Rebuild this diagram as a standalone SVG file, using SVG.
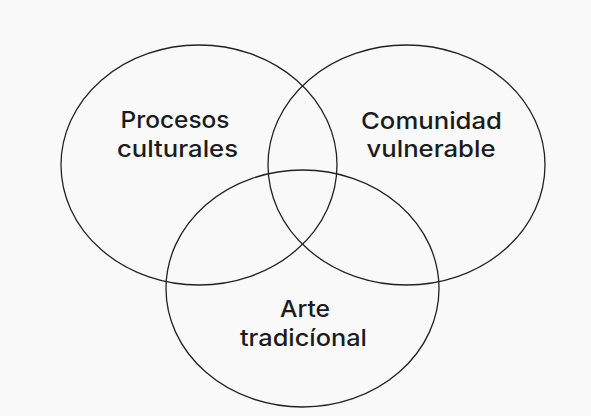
<svg xmlns="http://www.w3.org/2000/svg" width="591" height="416" viewBox="0 0 591 416">
<style>
.c{fill:none;stroke:#222;stroke-width:1.3}
.t{font-family:Inter,"Noto Sans","Liberation Sans",sans-serif;font-size:23.5px;font-weight:500;fill:#1c1c1c;text-anchor:middle}
</style>
<rect width="591" height="416" fill="#f9f9f9"/>
<g id="procesos">
<ellipse class="c" cx="199" cy="165" rx="138" ry="120"/>
<text class="t" x="175" y="128" textLength="109" lengthAdjust="spacingAndGlyphs">Procesos</text>
<text class="t" x="177.5" y="157" textLength="121" lengthAdjust="spacingAndGlyphs">culturales</text>
</g>
<g id="comunidad">
<ellipse class="c" cx="406.5" cy="165" rx="138.5" ry="120"/>
<text class="t" x="431.5" y="129" textLength="141" lengthAdjust="spacingAndGlyphs">Comunidad</text>
<text class="t" x="431" y="156.5" textLength="129" lengthAdjust="spacingAndGlyphs">vulnerable</text>
</g>
<g id="arte">
<ellipse class="c" cx="302.5" cy="288.5" rx="136.5" ry="118.5"/>
<text class="t" x="305" y="316.5" textLength="50" lengthAdjust="spacingAndGlyphs">Arte</text>
<text class="t" x="303.5" y="345.5" textLength="127" lengthAdjust="spacingAndGlyphs">tradicíonal</text>
</g>
<g id="connectors"></g>
</svg>
